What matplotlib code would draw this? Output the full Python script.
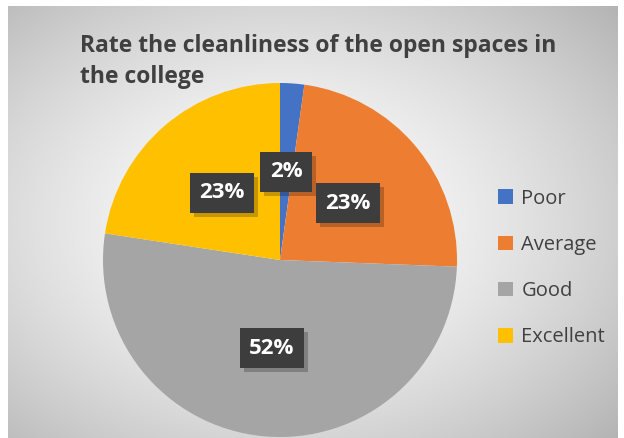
import matplotlib.pyplot as plt
import matplotlib.transforms as mtrans
from matplotlib.patches import Rectangle
import numpy as np

# data
categorias = ['Poor', 'Average', 'Good', 'Excellent']
valores = [2.2, 23.4, 51.8, 22.6]
colores = ['#4472c4', '#ed7d31', '#a5a5a5', '#ffc000']
titulo = ['Rate the cleanliness of the open spaces in', 'the college']

FUENTE = ['Open Sans', 'DejaVu Sans']
W, H = 624, 438
fig = plt.figure(figsize=(W / 100, H / 100), dpi=100)
fig.patch.set_facecolor('white')

# fondo con degradado radial (estilo Excel)
fondo = fig.add_axes([8 / W, 0, 610 / W, 432 / H])
yy, xx = np.mgrid[0:1:300j, 0:1:400j]
d = np.sqrt(((xx - 0.45) / 0.75) ** 2 + ((yy - 0.5) / 0.75) ** 2)
gris = 1.0 - 0.3 * np.clip(d, 0, 1) ** 1.5
fondo.imshow(np.dstack([gris, gris, gris]), aspect='auto', extent=[0, 1, 0, 1])
fondo.set_axis_off()

# la tarta
cx, cy, r = 280, 260, 177
ax = fig.add_axes([(cx - r) / W, (H - cy - r) / H, 2 * r / W, 2 * r / H])
wedges, _, autotexts = ax.pie(valores, colors=colores, startangle=90,
                              counterclock=False, radius=1,
                              autopct=lambda p: '%d%%' % round(p),
                              pctdistance=0.5,
                              wedgeprops=dict(linewidth=0),
                              textprops=dict(color='white', fontsize=16,
                                             fontweight='bold', family=FUENTE))
ax.set_xlim(-1, 1)
ax.set_ylim(-1, 1)
ax.set_aspect('auto')

for t in autotexts:
    t.set_bbox(dict(boxstyle='square,pad=0.42', fc='#3d3d3d', ec='none'))
    t.set_zorder(4)
    t.set_ha('center')
    t.set_va('center')

# titulo en dos renglones
for i, linea in enumerate(titulo):
    fig.text(80 / W, 1 - (52 + 31 * i) / H, linea, fontsize=16.5,
             fontweight='bold', color='#404040', ha='left', va='baseline',
             family=FUENTE)

leg = fig.legend(wedges, categorias, loc='center left',
                 bbox_to_anchor=(480 / W, 1 - 268 / H), frameon=False,
                 handlelength=0.75, handleheight=0.75, handletextpad=0.4,
                 labelspacing=1.3, prop=dict(family=FUENTE, size=14.5))
for txt in leg.get_texts():
    txt.set_color('#404040')

# sombra de las cajas de etiqueta (como rectangulos, no texto)
fig.canvas.draw()
for t in autotexts:
    bb = t.get_bbox_patch().get_window_extent()
    sombra = Rectangle((bb.x0 + 4, bb.y0 - 4), bb.width, bb.height,
                       transform=mtrans.IdentityTransform(), fc='black',
                       ec='none', alpha=0.22, zorder=3)
    ax.add_patch(sombra)

fig.savefig('out.png', dpi=100)
